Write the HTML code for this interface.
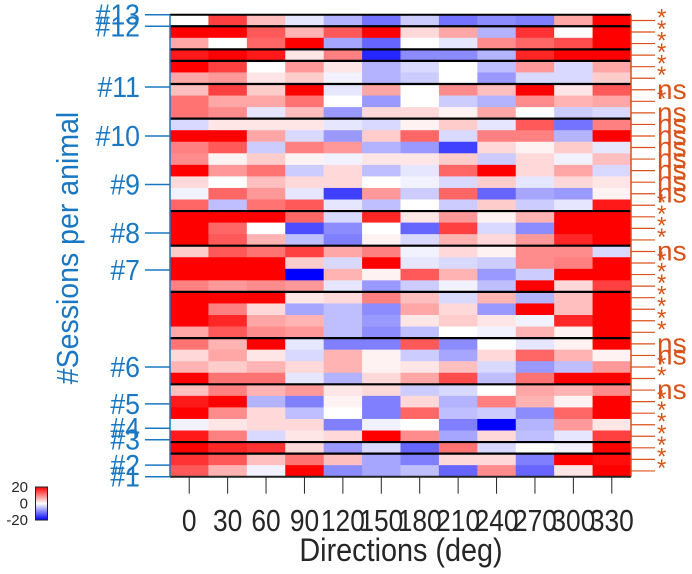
<!DOCTYPE html>
<html><head><meta charset="utf-8">
<style>
html,body{margin:0;padding:0;background:#fff;}
svg{display:block;font-family:"Liberation Sans",sans-serif;}
</style></head>
<body>
<svg id="chart" width="692" height="574" viewBox="0 0 692 574" xmlns="http://www.w3.org/2000/svg">
<text x="0" y="0" transform="translate(78,248) rotate(-90) scale(0.92,1)" text-anchor="middle" font-size="31" fill="#1a78c2">#Sessions per animal</text>
<text x="0" y="0" transform="translate(401,561) scale(0.9,1)" text-anchor="middle" font-size="32" fill="#262626">Directions (deg)</text>
<g id="cells"></g>
<g id="seps"></g>
<g id="xaxis"></g>
<g id="yaxis"></g>
<g id="raxis"></g>
<g id="cbar"></g>
</svg>
<script>
const directions = [0,30,60,90,120,150,180,210,240,270,300,330];
const values = [
[0,15,5,-2,-6,-11,-4,-11,-9,-10,7,20],
[20,20,13,6,13,20,3,7,-6,16,0,20],
[7,0,12,20,-7,-12,0,-2,9,12,14,20],
[18,20,18,2,10,-17,-9,-9,-6,17,20,20],
[20,15,0,8,2,-6,-3,0,-5,8,-3,7],
[7,8,2,4,-1,-6,-4,0,-8,-3,-3,4],
[5,15,4,20,-2,7,0,9,5,20,2,13],
[11,7,7,11,0,-8,0,-4,-6,9,6,7],
[11,9,-2,5,-8,3,3,1,7,0,-4,-3],
[-3,2,2,2,-2,-3,1,4,-2,13,-11,10],
[20,20,7,-3,-8,4,12,-3,10,10,-6,20],
[10,13,-4,10,8,-6,-8,-15,3,1,4,-2],
[9,1,4,1,-1,2,2,4,-4,3,-1,5],
[20,8,11,-4,3,-5,-2,12,20,3,7,-3],
[3,0,5,3,3,0,-1,-3,4,-2,3,2],
[-1,12,8,-2,-15,8,-4,12,-12,-7,-8,1],
[12,-5,11,13,-2,-5,0,-4,4,-4,-2,18],
[20,20,20,12,-3,17,2,8,1,6,20,20],
[20,12,0,-14,-9,0,-12,15,-3,-9,20,20],
[20,13,6,-5,-10,1,-3,6,3,8,17,20],
[4,13,11,15,7,10,-1,3,1,9,9,-3],
[20,20,20,4,-3,20,-2,-3,-4,9,10,20],
[20,20,20,-20,6,1,13,6,-8,-4,20,20],
[10,8,9,8,-2,-8,-4,-1,-5,20,3,15],
[20,20,20,2,3,10,5,-3,6,-6,5,20],
[20,10,3,-7,-5,-9,7,3,-8,20,5,20],
[20,17,7,6,-5,-8,2,4,2,-1,17,20],
[7,13,9,8,-5,-9,-5,0,-1,6,1,20],
[11,6,20,-2,-10,-10,13,-9,0,-2,1,20],
[3,7,2,-3,6,1,-4,-7,3,12,6,1],
[6,4,6,3,6,1,2,5,-3,-8,-5,8],
[20,11,11,-2,-6,3,7,14,-5,11,20,20],
[5,10,6,8,2,3,-4,-3,0,7,6,9],
[18,20,-6,-10,1,-10,3,-6,10,6,1,20],
[20,9,3,-5,0,-10,12,-5,-4,-9,12,20],
[-1,2,3,3,-10,-1,0,-10,-20,-6,8,2],
[18,10,-3,2,3,20,9,-7,3,-5,-2,15],
[20,17,16,3,-8,-3,-12,11,-3,0,-1,20],
[16,13,5,11,5,-7,-10,3,3,-10,20,19],
[13,6,-1,20,-9,-7,-5,-12,9,-12,2,20]
];
const separatorsAfterRow = [1,3,4,6,9,17,20,24,28,32,37,38];
const animalLabels = ["#13","#12","#11","#10","#9","#8","#7","#6","#5","#4","#3","#2","#1"];
const animalRowPos = [0,1,6.26,10.5,14.7,18.9,22.1,30.5,33.7,35.8,36.8,39,40];
const sigLabels = ["*","*","*","*","*","*","ns","*","ns","ns","ns","ns","ns","ns","ns","ns","*","*","*","*",
"ns","*","*","*","*","*","*","*","ns","ns","*","*","ns","*","*","*","*","*","*","*"];
const cbarTicks = [20,0,-20];

const NS="http://www.w3.org/2000/svg";
const X0=170,X1=631,Y0=14.7,Y1=476.7;
const nR=values.length,nC=directions.length;
const cw=(X1-X0)/nC,rh=(Y1-Y0)/nR;
function xScale(j){return X0+j*cw;}
function yScale(r){return Y0+r*rh;}
function color(v){let t=Math.max(-1,Math.min(1,v/20));
 if(t>=0){const c=Math.round(255*(1-t));return `rgb(255,${c},${c})`;}
 const c=Math.round(255*(1+t));return `rgb(${c},${c},255)`;}
function mk(tag,attrs,parent){const e=document.createElementNS(NS,tag);for(const k in attrs)e.setAttribute(k,attrs[k]);parent.appendChild(e);return e;}

const cells=document.getElementById('cells');
values.forEach((row,i)=>row.forEach((v,j)=>{
 const r=mk('rect',{x:xScale(j),y:yScale(i),width:cw+0.4,height:rh+0.4,fill:color(v)},cells);
 
 
}));
const seps=document.getElementById('seps');
separatorsAfterRow.forEach(s=>{
 const l=mk('line',{x1:X0,x2:X1,y1:yScale(s),y2:yScale(s),stroke:'#000','stroke-width':2.2},seps);
 
 
});
mk('line',{x1:X0,x2:X1,y1:Y0,y2:Y0,stroke:'#000','stroke-width':2},seps);
mk('line',{x1:X0,x2:X1,y1:Y1,y2:Y1,stroke:'#222','stroke-width':2},seps);

const xa=document.getElementById('xaxis');
directions.forEach((d,j)=>{
 const cx=xScale(j)+cw/2;
 mk('line',{x1:cx,x2:cx,y1:Y1,y2:Y1+17,stroke:'#262626','stroke-width':1},xa);
 const t=mk('text',{x:0,y:0,transform:`translate(${cx},531) scale(0.85,1)`,'text-anchor':'middle','font-size':31,fill:'#262626'},xa);
 t.textContent=d;
 
 
});

const ya=document.getElementById('yaxis');
mk('line',{x1:X0,x2:X0,y1:Y0,y2:Y1,stroke:'#1a78c2','stroke-width':1.5},ya);
animalLabels.forEach((lab,k)=>{
 const y=yScale(animalRowPos[k]);
 mk('line',{x1:145,x2:X0,y1:y,y2:y,stroke:'#1a78c2','stroke-width':1.5},ya);
 const t=mk('text',{x:0,y:0,transform:`translate(140,${y+10}) scale(0.92,1)`,'text-anchor':'end','font-size':29,fill:'#1a78c2'},ya);
 t.textContent=lab;
 
 
});

const ra=document.getElementById('raxis');
mk('line',{x1:X1,x2:X1,y1:Y0,y2:Y1,stroke:'#d95319','stroke-width':1.5},ra);
sigLabels.forEach((s,i)=>{
 const y=yScale(i+0.5);
 mk('line',{x1:X1,x2:655,y1:y,y2:y,stroke:'#d95319','stroke-width':1.2},ra);
 const isNs=s==='ns';
 const t=mk('text',{x:657,y:isNs?y+9:y+5,'font-size':isNs?28:24,fill:'#d95319'},ra);
 t.textContent=s;
 
 
});

const cb=document.getElementById('cbar');
const defs=mk('defs',{},cb);
const g=mk('linearGradient',{id:'cg',x1:0,y1:0,x2:0,y2:1},defs);
mk('stop',{offset:'0','stop-color':'#ff0000'},g);
mk('stop',{offset:'0.5','stop-color':'#ffffff'},g);
mk('stop',{offset:'1','stop-color':'#0000ff'},g);
mk('rect',{x:35.5,y:487,width:12,height:33,fill:'url(#cg)',stroke:'#222','stroke-width':1},cb);
cbarTicks.forEach(v=>{
 const y=487+(20-v)/40*33;
 const t=mk('text',{x:28,y:y+5,'text-anchor':'end','font-size':15,fill:'#262626'},cb);
 t.textContent=v;
 
 
});
</script>
</body></html>
